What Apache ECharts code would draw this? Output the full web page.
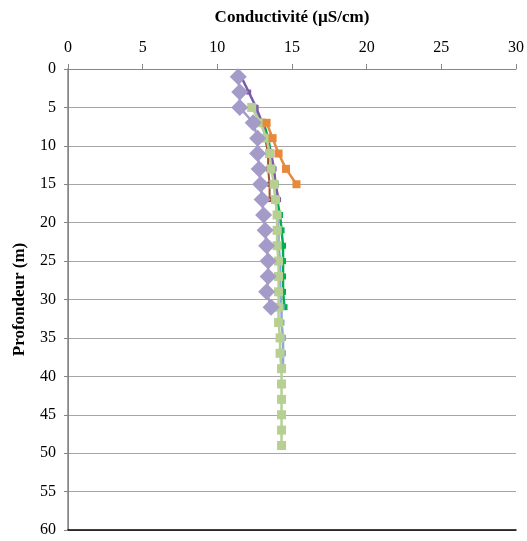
<!DOCTYPE html>
<html>
<head>
<meta charset="utf-8">
<script src="https://cdn.jsdelivr.net/npm/echarts@6/dist/echarts.min.js"></script>
<style>
  html, body { margin: 0; padding: 0; background: #fff; }
  #chart { width: 527px; height: 541px; }
</style>
</head>
<body>
<div id="chart"></div>
<script>
// depths (m) and conductivity (µS/cm)
var depthsDiamond = [1, 3, 5, 7, 9, 11, 13, 15, 17, 19, 21, 23, 25, 27, 29, 31];
var valuesDiamond = [11.4, 11.5, 11.5, 12.4, 12.7, 12.7, 12.8, 12.9, 13.0, 13.1, 13.2, 13.3, 13.4, 13.4, 13.3, 13.6];

var depthsPurple = [1, 3, 5, 7, 9, 11, 13, 15, 17];
var valuesPurple = [11.6, 12.1, 12.6, 13.0, 13.3, 13.6, 13.8, 13.9, 14.1];

var depthsBlue = [5, 7, 9, 11, 13, 15, 17, 19, 21, 23, 25, 27, 29, 31, 33, 35, 37, 39];
var valuesBlue = [12.5, 12.9, 13.3, 13.5, 13.7, 13.8, 13.9, 14.0, 14.1, 14.1, 14.2, 14.2, 14.2, 14.3, 14.3, 14.4, 14.4, 14.4];

var depthsGreen = [7, 9, 11, 13, 15, 17, 19, 21, 23, 25, 27, 29, 31];
var valuesGreen = [13.1, 13.4, 13.6, 13.7, 13.9, 14.0, 14.2, 14.3, 14.4, 14.4, 14.4, 14.4, 14.5];

var depthsOrange = [7, 9, 11, 13, 15];
var valuesOrange = [13.3, 13.7, 14.1, 14.6, 15.3];

var depthsBrown = [9, 11, 13, 15, 17];
var valuesBrown = [13.2, 13.4, 13.4, 13.5, 13.5];

var depthsLight = [5, 7, 9, 11, 13, 15, 17, 19, 21, 23, 25, 27, 29, 31, 33, 35, 37, 39, 41, 43, 45, 47, 49];
var valuesLight = [12.3, 12.9, 13.3, 13.5, 13.6, 13.8, 13.9, 14.0, 14.0, 14.0, 14.1, 14.1, 14.1, 14.1, 14.1, 14.2, 14.2, 14.3, 14.3, 14.3, 14.3, 14.3, 14.3];

function pairs(xs, ds) {
    var out = [];
    for (var i = 0; i < ds.length; i++) {
        out.push([xs[i], ds[i]]);
    }
    return out;
}

var font = "'Liberation Serif', 'Times New Roman', serif";

function lineSeries(xs, ds, color, symbol, size, width, z) {
    return {
        type: "line",
        data: pairs(xs, ds),
        symbol: symbol,
        symbolSize: size,
        showSymbol: true,
        lineStyle: { color: color, width: width },
        itemStyle: { color: color },
        z: z,
        animation: false
    };
}

var chart = echarts.init(document.getElementById("chart"));
chart.setOption({
    backgroundColor: "#fff",
    grid: { left: 68, right: 10, top: 69, bottom: 11 },
    xAxis: [{
        type: "value",
        position: "top",
        min: 0,
        max: 30,
        interval: 5,
        name: "Conductivité (µS/cm)",
        nameLocation: "middle",
        nameGap: 43,
        nameTextStyle: { fontFamily: font, fontSize: 17, fontWeight: "bold", color: "#000" },
        axisLine: { show: true, lineStyle: { color: "#868686", width: 1 } },
        axisTick: { show: true, inside: false, length: 5, lineStyle: { color: "#868686" } },
        axisLabel: { fontFamily: font, fontSize: 16, color: "#000", margin: 13 },
        splitLine: { show: false }
    }, {
        type: "value",
        position: "bottom",
        min: 0,
        max: 30,
        axisLine: { show: true, onZero: false, lineStyle: { color: "#000", width: 1.5 } },
        axisTick: { show: false },
        axisLabel: { show: false },
        splitLine: { show: false }
    }],
    yAxis: [{
        type: "value",
        inverse: true,
        min: 0,
        max: 60,
        interval: 5,
        name: "Profondeur (m)",
        nameLocation: "middle",
        nameGap: 40,
        nameTextStyle: { fontFamily: font, fontSize: 17, fontWeight: "bold", color: "#000" },
        axisLine: { show: true, lineStyle: { color: "#868686", width: 1 } },
        axisTick: { show: true, length: 4, lineStyle: { color: "#868686" } },
        axisLabel: { fontFamily: font, fontSize: 16, color: "#000", margin: 12 },
        splitLine: { show: true, lineStyle: { color: "#a6a6a6", width: 1 } }
    }, {
        type: "value",
        position: "right",
        inverse: true,
        min: 0,
        max: 60,
        axisLine: { show: true, lineStyle: { color: "#868686", width: 1.5 } },
        axisTick: { show: false },
        axisLabel: { show: false },
        splitLine: { show: false }
    }],
    series: [
        lineSeries(valuesGreen, depthsGreen, "#00b050", "rect", 6, 2.5, 2),
        lineSeries(valuesBlue, depthsBlue, "#8eaadb", "rect", 6, 2.5, 3),
        lineSeries(valuesBrown, depthsBrown, "#a0522d", "rect", 5, 2, 4),
        lineSeries(valuesPurple, depthsPurple, "#7a5ca8", "rect", 5, 2.5, 5),
        lineSeries(valuesLight, depthsLight, "#b7cf92", "rect", 9, 2.5, 6),
        lineSeries(valuesOrange, depthsOrange, "#e8883a", "rect", 8, 2.5, 7),
        lineSeries(valuesDiamond, depthsDiamond, "#a59bc8", "diamond", 17, 2.5, 8)
    ]
});
</script>
</body>
</html>
